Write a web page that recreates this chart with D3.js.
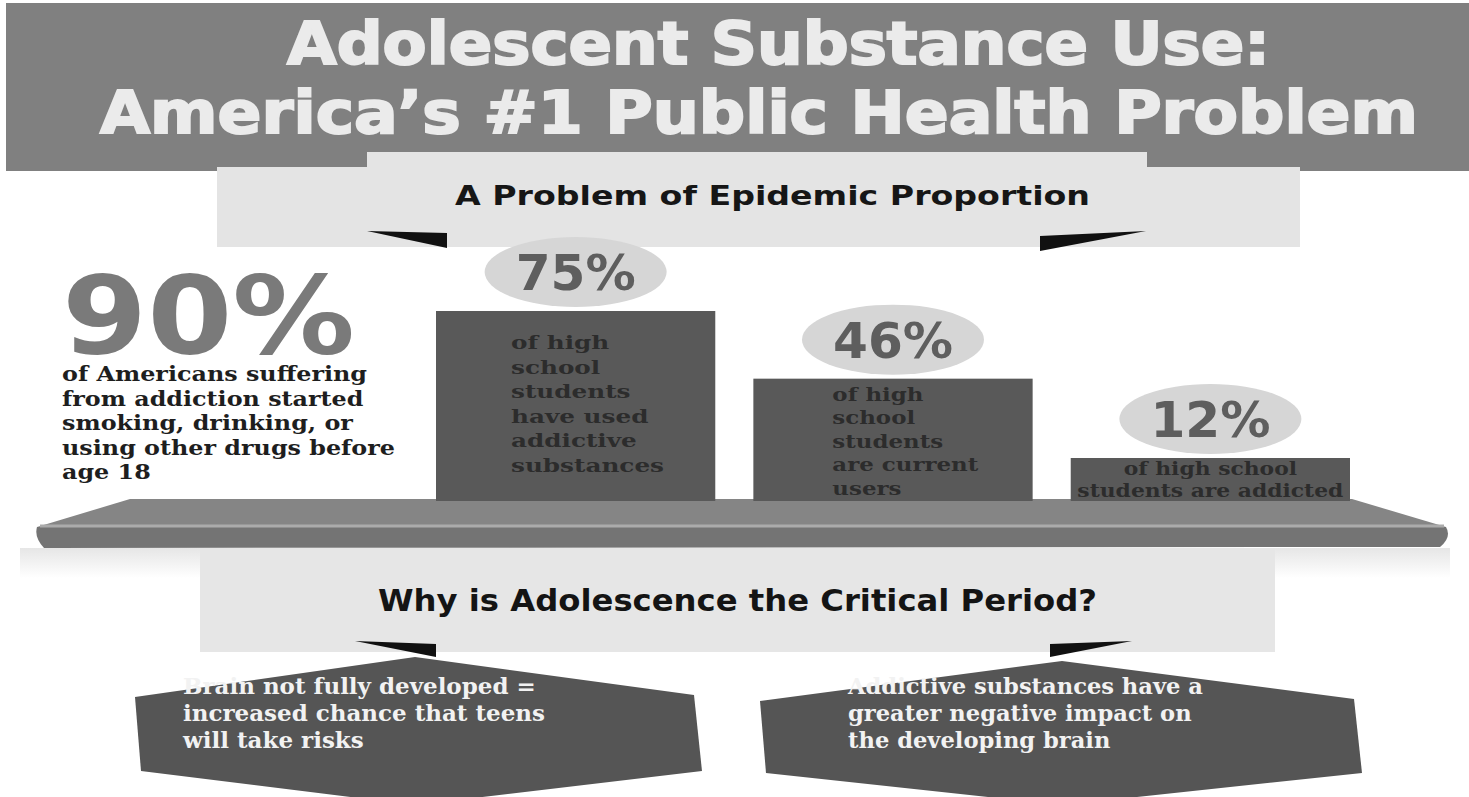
<!DOCTYPE html>
<html>
<head>
<meta charset="utf-8">
<script src="https://cdn.jsdelivr.net/npm/d3@7"></script>
<style>
  html, body { margin: 0; padding: 0; background: #fff; overflow: hidden; }
</style>
</head>
<body>
<div id="chart"></div>
<script>
// text & values
const titleLines = ['Adolescent Substance Use:', 'America\u2019s #1 Public Health Problem'];
const sectionTitles = ['A Problem of Epidemic Proportion', 'Why is Adolescence the Critical Period?'];
const headlineLabel = '90%';
const headlineLines = ['of Americans suffering', 'from addiction started', 'smoking, drinking, or',
                       'using other drugs before', 'age 18'];
const categories = ['ever used', 'current users', 'addicted'];
const values = [75, 46, 12];
const valueLabels = ['75%', '46%', '12%'];
const barNotes = [
  ['of high', 'school', 'students', 'have used', 'addictive', 'substances'],
  ['of high', 'school', 'students', 'are current', 'users'],
  ['of high school', 'students are addicted']
];
const reasons = [
  ['Brain not fully developed =', 'increased chance that teens', 'will take risks'],
  ['Addictive substances have a', 'greater negative impact on', 'the developing brain']
];

const W = 1469, H = 797;
const heavy = "'DejaVu Sans', 'Liberation Sans', sans-serif";
const slab = "'DejaVu Serif', 'Liberation Serif', serif";

let svg = d3.select('#chart').append('svg')
    .attr('width', W).attr('height', H)
    .style('display', 'block');

// squeeze/stretch a text node to the width measured on the poster
function fitWidth(sel, w) {
  sel.attr('textLength', w).attr('lengthAdjust', 'spacingAndGlyphs');
}
// same, but for a block of lines: the widest line gets the target width
function fitBlock(sel, w) {
  let widest = 0;
  sel.each(function() { widest = Math.max(widest, this.getComputedTextLength()); });
  let k = w / widest;
  sel.each(function() {
    d3.select(this)
      .attr('textLength', this.getComputedTextLength() * k)
      .attr('lengthAdjust', 'spacingAndGlyphs');
  });
}

// ---- title banner
svg.append('rect')
    .attr('x', 6).attr('y', 3).attr('width', W - 6).attr('height', 168)
    .attr('fill', '#808080');

// light panel with the first section heading
svg.append('rect')
    .attr('x', 217).attr('y', 167).attr('width', 1083).attr('height', 80)
    .attr('fill', '#e4e4e4');
svg.append('rect')
    .attr('x', 367).attr('y', 152).attr('width', 780).attr('height', 20)
    .attr('fill', '#e4e4e4');

let titleBox = [{x0: 287, x1: 1270, base: 64}, {x0: 100, x1: 1418, base: 133}];
svg.selectAll('text.title')
  .data(titleLines)
  .enter().append('text')
    .attr('class', 'title')
    .attr('x', (d, i) => titleBox[i].x0)
    .attr('y', (d, i) => titleBox[i].base)
    .style('font', "bold 58px " + heavy)
    .attr('fill', '#ebebeb')
    .attr('stroke', '#ebebeb')
    .attr('stroke-width', 2)
    .text(d => d)
    .each(function(d, i) { fitWidth(d3.select(this), titleBox[i].x1 - titleBox[i].x0); });

svg.append('text')
    .attr('x', 455).attr('y', 205)
    .style('font', "bold 26px " + heavy)
    .attr('fill', '#161616')
    .text(sectionTitles[0])
    .call(fitWidth, 635);

// wedges under the heading panels
function wedge(tipX, tipY, baseX, top, bottom) {
  return 'M' + tipX + ',' + tipY + 'L' + baseX + ',' + top + 'L' + baseX + ',' + bottom + 'Z';
}
svg.append('path').attr('d', wedge(367, 231, 447, 233, 248)).attr('fill', '#111');
svg.append('path').attr('d', wedge(1146, 231, 1040, 236, 251)).attr('fill', '#111');

// ---- big 90% callout
svg.append('text')
    .attr('x', 62).attr('y', 353)
    .style('font', "bold 108px " + heavy)
    .attr('fill', '#7a7a7a')
    .text(headlineLabel)
    .call(fitWidth, 293);

svg.append('g').selectAll('text')
  .data(headlineLines)
  .enter().append('text')
    .attr('x', 62)
    .attr('y', (d, i) => 381 + i * 24.5)
    .style('font', "bold 20px " + slab)
    .attr('fill', '#1e1e1e')
    .text(d => d)
    .call(fitBlock, 333);

// ---- bar chart on the shelf
let shelfBack = 499, shelfFront = 527, shelfBottom = 547;

let x = d3.scaleBand()
    .domain(categories)
    .range([436, 1350])
    .paddingInner(0.12);

let y = d3.scaleLinear()
    .domain([0, 75])
    .range([486, 311]);

// shelf: top face + front face
let shelf = svg.append('g');
shelf.append('path')
    .attr('d', 'M130,' + shelfBack + 'L1352,' + shelfBack + 'L1446,' + shelfFront +
               'L37,' + shelfFront + 'Z')
    .attr('fill', '#858585');
shelf.append('path')
    .attr('d', 'M37,' + shelfFront + 'L1446,' + shelfFront +
               'Q1452,' + (shelfFront + 10) + ' 1440,' + shelfBottom +
               'L44,' + (shelfBottom + 1) + 'Q34,' + (shelfFront + 10) + ' 37,' + shelfFront + 'Z')
    .attr('fill', '#747474');
shelf.append('line')
    .attr('x1', 40).attr('x2', 1444)
    .attr('y1', shelfFront - 1).attr('y2', shelfFront - 1)
    .attr('stroke', '#ababab').attr('stroke-width', 3);

// faded panel under the shelf with the second heading
let fade = svg.append('defs').append('linearGradient')
    .attr('id', 'fade').attr('x1', 0).attr('x2', 0).attr('y1', 0).attr('y2', 1);
fade.append('stop').attr('offset', '0%').attr('stop-color', '#e6e6e6').attr('stop-opacity', 1);
fade.append('stop').attr('offset', '100%').attr('stop-color', '#e6e6e6').attr('stop-opacity', 0);
svg.append('rect')
    .attr('x', 20).attr('y', shelfBottom + 1).attr('width', 1430).attr('height', 30)
    .attr('fill', 'url(#fade)');
svg.append('rect')
    .attr('x', 200).attr('y', shelfBottom + 1).attr('width', 1075).attr('height', 104)
    .attr('fill', '#e6e6e6');

svg.append('g').selectAll('rect')
  .data(values)
  .enter().append('rect')
    .attr('x', (d, i) => x(categories[i]))
    .attr('y', d => y(d))
    .attr('width', x.bandwidth())
    .attr('height', d => shelfBack + 2 - y(d))
    .attr('fill', '#595959');

// value ovals above the bars
let ovals = svg.append('g').selectAll('g')
  .data(values)
  .enter().append('g')
    .attr('transform', (d, i) =>
      'translate(' + (x(categories[i]) + x.bandwidth() / 2) + ',' + (y(d) - 39) + ')');
ovals.append('ellipse')
    .attr('rx', 91).attr('ry', 35)
    .attr('fill', '#d6d6d6');
ovals.append('text')
    .attr('text-anchor', 'middle')
    .attr('y', 18)
    .style('font', "bold 50px " + heavy)
    .attr('fill', '#5e5e5e')
    .text((d, i) => valueLabels[i])
    .call(fitWidth, 120);

// dark captions printed on the bars
let noteLayout = [
  {dx: 75, first: 38, step: 24.5, width: 153, anchor: 'start'},
  {dx: 79, first: 22, step: 23.5, width: 146, anchor: 'start'},
  {dx: null, first: 17, step: 22, width: 266, anchor: 'middle'}
];
svg.append('g').selectAll('g')
  .data(barNotes)
  .enter().append('g')
  .each(function(lines, i) {
    let L = noteLayout[i];
    let left = x(categories[i]);
    d3.select(this).selectAll('text')
      .data(lines)
      .enter().append('text')
        .attr('x', L.anchor == 'middle' ? left + x.bandwidth() / 2 : left + L.dx)
        .attr('text-anchor', L.anchor)
        .attr('y', (d, j) => y(values[i]) + L.first + j * L.step)
        .style('font', "bold 19px " + slab)
        .attr('fill', '#2c2c2c')
        .text(d => d)
        .call(fitBlock, L.width);
  });

// ---- why adolescence
svg.append('text')
    .attr('x', 378).attr('y', 611)
    .style('font', "bold 30px " + heavy)
    .attr('fill', '#141414')
    .text(sectionTitles[1])
    .call(fitWidth, 719);

svg.append('path').attr('d', wedge(355, 641, 436, 644, 657)).attr('fill', '#111');
svg.append('path').attr('d', wedge(1132, 641, 1050, 644, 657)).attr('fill', '#111');

let hexes = [
  {l: 135, r: 702, top: 657, bottom: 805, apex: 415},
  {l: 760, r: 1362, top: 661, bottom: 805, apex: 1062}
];
function hexPath(h) {
  let mid = (h.top + h.bottom) / 2;
  return 'M' + h.apex + ',' + h.top +
         'L' + (h.r - 8) + ',' + (h.top + 38) +
         'L' + h.r + ',' + (mid + 40) +
         'L' + h.apex + ',' + h.bottom +
         'L' + (h.l + 6) + ',' + (mid + 40) +
         'L' + h.l + ',' + (h.top + 40) + 'Z';
}
svg.append('g').selectAll('path')
  .data(hexes)
  .enter().append('path')
    .attr('d', hexPath)
    .attr('fill', '#555555');

let reasonX = [183, 848];
let reasonW = [362, 355];
svg.append('g').selectAll('g')
  .data(reasons)
  .enter().append('g')
  .each(function(lines, i) {
    d3.select(this).selectAll('text')
      .data(lines)
      .enter().append('text')
        .attr('x', reasonX[i])
        .attr('y', (d, j) => 694 + j * 27)
        .style('font', "bold 22px " + slab)
        .attr('fill', '#f2f2f2')
        .text(d => d)
        .call(fitBlock, reasonW[i]);
  });
</script>
</body>
</html>
